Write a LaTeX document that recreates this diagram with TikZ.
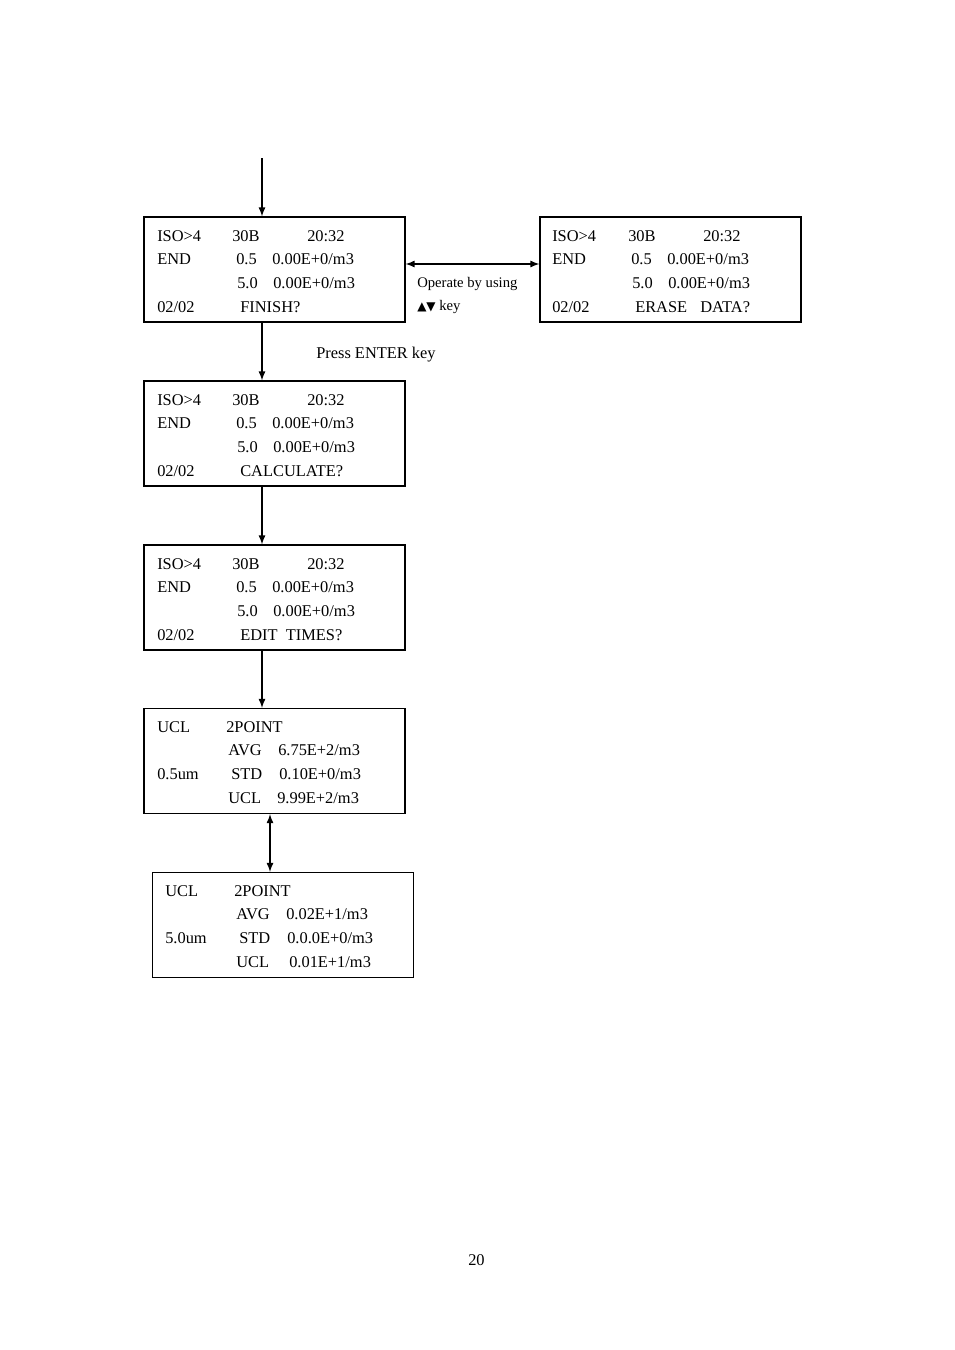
\documentclass[tikz,border=0pt]{standalone}
\usepackage{fontspec}
\setmainfont{Liberation Serif}
\newfontfamily\symfont{DejaVu Sans}
\usetikzlibrary{arrows}
\tikzstyle{screen} = [rectangle, draw=black, line width=0.9pt, minimum width=195.75pt, minimum height=78.75pt, inner sep=0pt]
\tikzstyle{lcd} = [anchor=base west, inner sep=0pt, font=\fontsize{12.3}{14}\selectfont]
\tikzstyle{arrow} = [line width=1.3pt,->,>=latex]
\tikzstyle{twoway} = [line width=1.3pt,<->,>=latex]
\newcommand{\lcdline}[4]{\node (#1) [lcd] at (#2,#3) {#4};}

\begin{document}
\begin{tikzpicture}[x=0.75pt,y=-0.75pt]
\useasboundingbox (0,0) rectangle (954,1350);

\node (finish) [screen] at (274.5,269.5) {};
\node (erase) [screen] at (670.5,269.5) {};
\node (calc) [screen] at (274.5,433.5) {};
\node (edit) [screen] at (274.5,597.5) {};
\node (ucla) [screen] at (274.5,761) {};
\node (uclb) [screen] at (283,925) {};
\coordinate (top) at (262,158);

% FINISH?
\begin{scope}[shift={(144,217)}]
\lcdline{fa1}{13}{24}{ISO>4} \lcdline{fa2}{88}{24}{30B} \lcdline{fa3}{163}{24}{20:32}
\lcdline{fb1}{13}{47.5}{END} \lcdline{fb2}{92}{47.5}{0.5} \lcdline{fb3}{128}{47.5}{0.00E+0/m3}
\lcdline{fc2}{93}{71}{5.0} \lcdline{fc3}{129}{71}{0.00E+0/m3}
\lcdline{fd1}{13}{95}{02/02} \lcdline{fd2}{96}{95}{FINISH?}
\end{scope}

% ERASE DATA?
\begin{scope}[shift={(540,217)}]
\lcdline{ea1}{12}{24}{ISO>4} \lcdline{ea2}{88}{24}{30B} \lcdline{ea3}{163}{24}{20:32}
\lcdline{eb1}{12}{47.5}{END} \lcdline{eb2}{91}{47.5}{0.5} \lcdline{eb3}{127}{47.5}{0.00E+0/m3}
\lcdline{ec2}{92}{71}{5.0} \lcdline{ec3}{128}{71}{0.00E+0/m3}
\lcdline{ed1}{12}{95}{02/02} \lcdline{ed2}{95}{95}{ERASE\hspace{0.8em}DATA?}
\end{scope}

% CALCULATE?
\begin{scope}[shift={(144,381)}]
\lcdline{ca1}{13}{24}{ISO>4} \lcdline{ca2}{88}{24}{30B} \lcdline{ca3}{163}{24}{20:32}
\lcdline{cb1}{13}{47.5}{END} \lcdline{cb2}{92}{47.5}{0.5} \lcdline{cb3}{128}{47.5}{0.00E+0/m3}
\lcdline{cc2}{93}{71}{5.0} \lcdline{cc3}{129}{71}{0.00E+0/m3}
\lcdline{cd1}{13}{95}{02/02} \lcdline{cd2}{96}{95}{CALCULATE?}
\end{scope}

% EDIT TIMES?
\begin{scope}[shift={(144,545)}]
\lcdline{da1}{13}{24}{ISO>4} \lcdline{da2}{88}{24}{30B} \lcdline{da3}{163}{24}{20:32}
\lcdline{db1}{13}{47.5}{END} \lcdline{db2}{92}{47.5}{0.5} \lcdline{db3}{128}{47.5}{0.00E+0/m3}
\lcdline{dc2}{93}{71}{5.0} \lcdline{dc3}{129}{71}{0.00E+0/m3}
\lcdline{dd1}{13}{95}{02/02} \lcdline{dd2}{96}{95}{EDIT\hspace{0.5em}TIMES?}
\end{scope}

% UCL 0.5um
\begin{scope}[shift={(144,708)}]
\lcdline{ua1}{13}{24}{UCL} \lcdline{ua2}{82}{24}{2POINT}
\lcdline{ub2}{84}{47.5}{AVG} \lcdline{ub3}{134}{47.5}{6.75E+2/m3}
\lcdline{uc1}{13}{71}{0.5um} \lcdline{uc2}{87}{71}{STD} \lcdline{uc3}{135}{71}{0.10E+0/m3}
\lcdline{ud2}{84}{95}{UCL} \lcdline{ud3}{133}{95}{9.99E+2/m3}
\end{scope}

% UCL 5.0um
\begin{scope}[shift={(152,872)}]
\lcdline{va1}{13}{24}{UCL} \lcdline{va2}{82}{24}{2POINT}
\lcdline{vb2}{84}{47.5}{AVG} \lcdline{vb3}{134}{47.5}{0.02E+1/m3}
\lcdline{vc1}{13}{71}{5.0um} \lcdline{vc2}{87}{71}{STD} \lcdline{vc3}{135}{71}{0.0.0E+0/m3}
\lcdline{vd2}{84}{95}{UCL} \lcdline{vd3}{137}{95}{0.01E+1/m3}
\end{scope}

\node (operate) [lcd, font=\fontsize{11}{13}\selectfont] at (417,287) {Operate by using};
\node (keys) [lcd, font=\fontsize{11}{13}\selectfont] at (417,310) {{\symfont\fontsize{9}{11}\selectfont ▲▼} key};
\node (enter) [lcd] at (316,358) {Press ENTER key};
\node (page) [lcd] at (468,1265) {20};

\draw [arrow] (top) -- (top |- finish.north);
\draw [twoway] (finish.east |- 0,264) -- (erase.west |- 0,264);
\draw [arrow] (finish.south -| 262,0) -- (calc.north -| 262,0);
\draw [arrow] (calc.south -| 262,0) -- (edit.north -| 262,0);
\draw [arrow] (edit.south -| 262,0) -- (ucla.north -| 262,0);
\draw [twoway] (ucla.south -| 270,0) -- (uclb.north -| 270,0);

\end{tikzpicture}
\end{document}
